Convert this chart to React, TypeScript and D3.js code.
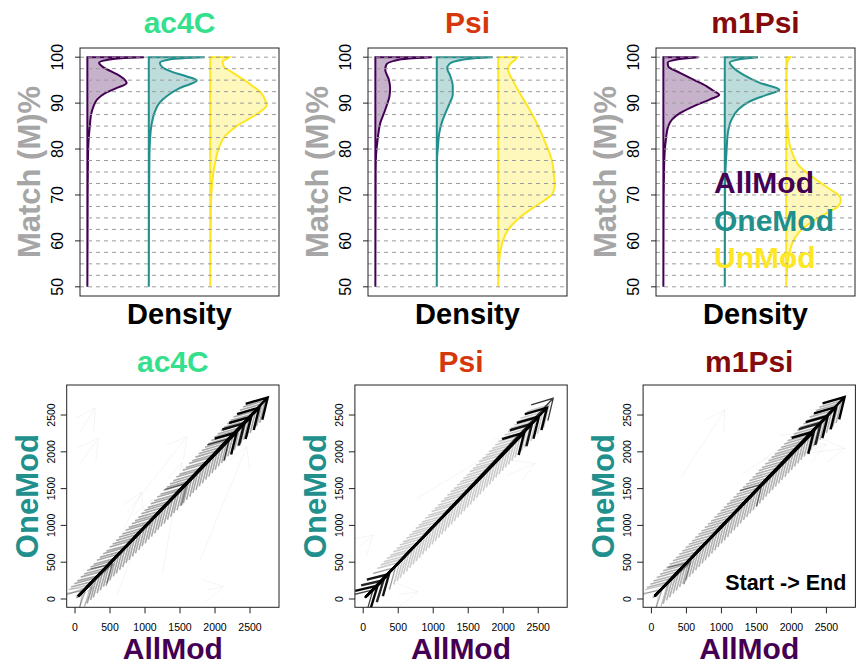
import React from "react";
import * as d3 from "d3";

const W = 856;
const H = 666;
const FONT = "'Liberation Sans', Arial, Helvetica, sans-serif";

const PANELS = ["ac4C", "Psi", "m1Psi"];
const TITLE_COLORS = ["#34E08C", "#D6380C", "#850B0B"];
const MODS = ["AllMod", "OneMod", "UnMod"];
const MOD_COLORS = ["#440154", "#21908C", "#FDE725"];
const MATCH_TICKS = [50, 60, 70, 80, 90, 100];
const MATCH_GRID = [50, 52.5, 55, 57.5, 60, 62.5, 65, 67.5, 70, 72.5, 75, 77.5, 80, 82.5, 85, 87.5, 90, 92.5, 95, 97.5, 100];
const POS_TICKS = [0, 500, 1000, 1500, 2000, 2500];

// density of match % per group, [match %, density scaled to the lane width]
const ac4cAllMod = [[50, 0], [60, 0.003], [70, 0.005], [78, 0.01], [82, 0.02], [85, 0.04], [87.5, 0.06], [89.3, 0.1], [90.8, 0.16], [92.2, 0.29], [93.3, 0.48], [94.4, 0.64], [95.2, 0.6], [96, 0.52], [97, 0.37], [98, 0.24], [98.8, 0.19], [99.4, 0.32], [99.8, 0.6], [100, 0.92]];
const ac4cOneMod = [[50, 0], [70, 0.005], [78, 0.01], [82, 0.02], [85.7, 0.05], [87.8, 0.09], [90, 0.17], [91.5, 0.29], [93.3, 0.51], [94.9, 0.78], [95.8, 0.62], [96.8, 0.38], [97.8, 0.22], [98.8, 0.18], [99.4, 0.3], [99.8, 0.6], [100, 0.91]];
const ac4cUnMod = [[50, 0], [60, 0.005], [65.3, 0.01], [70.4, 0.02], [74.7, 0.05], [77.7, 0.09], [80.6, 0.15], [82.8, 0.24], [85, 0.43], [87.1, 0.7], [88.6, 0.86], [89.6, 0.92], [90.5, 0.9], [92.2, 0.83], [94.4, 0.62], [96.6, 0.37], [98, 0.22], [99.1, 0.2], [99.6, 0.27], [100, 0.31]];

const psiAllMod = [[50, 0], [75, 0.005], [78.4, 0.01], [81.3, 0.03], [83.5, 0.05], [85.7, 0.08], [87.8, 0.14], [89.7, 0.19], [91.5, 0.23], [93.3, 0.24], [95.1, 0.22], [97.3, 0.16], [98.4, 0.18], [99.2, 0.3], [99.7, 0.55], [100, 0.92]];
const psiOneMod = [[50, 0], [78, 0.005], [80.6, 0.02], [83.5, 0.04], [85.7, 0.08], [87.8, 0.14], [90, 0.21], [91.8, 0.26], [93.7, 0.26], [95.9, 0.22], [97.6, 0.17], [98.6, 0.21], [99.4, 0.4], [99.8, 0.65], [100, 0.91]];
const psiUnMod = [[50, 0], [54.4, 0.01], [57.3, 0.03], [60.2, 0.08], [62.4, 0.16], [64.5, 0.3], [66.7, 0.51], [68.9, 0.76], [70.4, 0.89], [72.2, 0.92], [74, 0.91], [77.7, 0.87], [81.3, 0.77], [85, 0.65], [88.6, 0.51], [92.2, 0.35], [95.1, 0.23], [97.3, 0.16], [98.6, 0.2], [99.5, 0.28], [100, 0.31]];

const m1psiAllMod = [[50, 0], [70, 0.005], [74.7, 0.01], [79.1, 0.02], [82, 0.04], [85, 0.08], [86.4, 0.14], [87.8, 0.27], [89.3, 0.49], [90.8, 0.76], [91.8, 0.91], [92.8, 0.8], [93.7, 0.7], [95.1, 0.49], [96.6, 0.27], [98, 0.08], [98.8, 0.07], [99.5, 0.22], [100, 0.57]];
const m1psiOneMod = [[50, 0], [70, 0.005], [74.7, 0.01], [79.8, 0.03], [83.5, 0.05], [86.4, 0.11], [88.6, 0.22], [90.4, 0.41], [91.8, 0.68], [92.9, 0.89], [94.4, 0.57], [96.2, 0.3], [97.7, 0.14], [98.8, 0.08], [99.5, 0.22], [100, 0.54]];
const m1psiUnMod = [[50, 0], [53, 0.01], [56.6, 0.04], [59.5, 0.1], [61.6, 0.19], [63.8, 0.38], [66, 0.65], [67.5, 0.84], [68.9, 0.89], [70, 0.85], [71.1, 0.73], [73.3, 0.49], [76.2, 0.22], [79.8, 0.08], [83.5, 0.03], [90, 0.01], [97, 0.005], [99, 0.02], [100, 0.07]];

const DENSITIES = [
  [ac4cAllMod, ac4cOneMod, ac4cUnMod],
  [psiAllMod, psiOneMod, psiUnMod],
  [m1psiAllMod, m1psiOneMod, m1psiUnMod],
];

// grouped reads: [start AllMod, start OneMod, end AllMod, end OneMod, number of reads]
const ac4cReads = [
  [45, 38, 2753, 2740, 45], [48, 40, 2632, 2600, 35], [50, 42, 2516, 2478, 35], [52, 44, 2420, 2390, 20],
  [50, 40, 2310, 2266, 35], [55, 45, 2205, 2180, 12], [48, 40, 1600, 1575, 5], [46, 40, 540, 478, 4],
  [20, 15, 150, 120, 3], [30, 20, 230, 200, 2], [15, 25, 110, 140, 2], [35, 10, 260, 160, 1],
];
const psiReads = [
  [45, 38, 2714, 2727, 12], [48, 40, 2625, 2600, 35], [50, 42, 2510, 2480, 35], [47, 40, 2410, 2380, 20],
  [50, 40, 2300, 2260, 35], [30, 25, 205, 181, 30], [35, 30, 370, 340, 20], [25, 20, 290, 255, 15],
  [20, 15, 140, 125, 10], [40, 30, 460, 430, 4],
];
const m1psiReads = [
  [45, 38, 2760, 2745, 40], [48, 40, 2640, 2610, 35], [50, 42, 2520, 2490, 35], [47, 40, 2420, 2395, 15],
  [50, 40, 2320, 2275, 35], [48, 40, 1580, 1560, 5], [46, 40, 560, 500, 4],
  [20, 15, 150, 125, 3], [30, 20, 230, 200, 2], [15, 25, 110, 140, 1],
];
const READS = [ac4cReads, psiReads, m1psiReads];

// single reads along the diagonal: [start AllMod, start OneMod, end AllMod, end OneMod]
const ac4cBand = [
  [42, 36, 262, 240], [47, 40, 305, 290], [44, 39, 351, 322], [50, 43, 398, 381], [45, 38, 446, 420], [48, 42, 489, 470],
  [43, 37, 537, 519], [51, 45, 582, 555], [46, 40, 628, 611], [44, 38, 671, 650], [49, 43, 718, 700], [45, 39, 764, 735],
  [52, 46, 809, 792], [43, 38, 853, 833], [47, 41, 901, 880], [46, 40, 944, 925], [50, 44, 992, 968], [44, 38, 1037, 1020],
  [48, 42, 1083, 1059], [45, 40, 1126, 1110], [51, 45, 1172, 1150], [43, 37, 1219, 1195], [47, 42, 1263, 1245], [46, 39, 1308, 1290],
  [49, 43, 1354, 1328], [44, 38, 1399, 1381], [48, 41, 1446, 1420], [45, 40, 1490, 1472], [50, 44, 1537, 1510], [43, 38, 1581, 1566],
  [47, 40, 1626, 1604], [46, 41, 1671, 1650], [52, 45, 1719, 1695], [44, 39, 1762, 1745], [48, 42, 1808, 1783], [45, 38, 1853, 1836],
  [49, 44, 1899, 1874], [43, 37, 1945, 1928], [47, 41, 1990, 1966], [46, 40, 2036, 2015], [50, 44, 2081, 2060], [44, 38, 2127, 2105],
  [48, 42, 2172, 2150], [45, 40, 2218, 2195], [51, 45, 2262, 2241], [43, 37, 2308, 2290], [47, 41, 2353, 2330], [46, 40, 2399, 2378],
  [49, 43, 2445, 2420], [44, 38, 2490, 2470], [48, 42, 2535, 2512], [45, 40, 2581, 2560], [50, 44, 2627, 2603], [46, 41, 2672, 2652],
  [47, 40, 2716, 2698],
];
const psiBand = [
  [44, 38, 520, 500], [46, 41, 566, 548], [43, 37, 611, 590], [49, 42, 655, 640], [45, 40, 702, 680], [48, 43, 747, 728],
  [44, 38, 793, 771], [50, 44, 838, 820], [46, 40, 883, 862], [43, 38, 929, 910], [47, 41, 974, 955], [45, 39, 1019, 997],
  [51, 45, 1065, 1046], [44, 39, 1110, 1090], [48, 42, 1156, 1133], [46, 40, 1201, 1183], [49, 43, 1247, 1224], [43, 37, 1292, 1275],
  [47, 41, 1337, 1316], [45, 40, 1383, 1361], [50, 44, 1428, 1410], [44, 38, 1474, 1452], [48, 43, 1519, 1498], [46, 40, 1564, 1546],
  [52, 45, 1610, 1587], [43, 37, 1655, 1636], [47, 42, 1701, 1680], [45, 39, 1746, 1725], [49, 43, 1792, 1770], [44, 38, 1837, 1818],
  [48, 42, 1882, 1860], [46, 41, 1928, 1905], [50, 44, 1973, 1954], [43, 38, 2019, 1998], [47, 41, 2064, 2043], [45, 40, 2110, 2090],
  [49, 43, 2155, 2132], [44, 39, 2201, 2180], [48, 42, 2246, 2226], [46, 40, 2292, 2270], [51, 45, 2337, 2315], [43, 37, 2383, 2362],
  [47, 41, 2428, 2409], [45, 40, 2474, 2451], [50, 44, 2519, 2498], [44, 38, 2565, 2544], [48, 42, 2610, 2590], [46, 41, 2655, 2636],
];
const m1psiBand = [
  [43, 37, 255, 236], [48, 41, 300, 284], [45, 40, 347, 325], [51, 44, 392, 376], [44, 38, 440, 418], [47, 42, 485, 466],
  [46, 40, 531, 510], [50, 43, 576, 557], [43, 38, 622, 604], [48, 42, 667, 646], [45, 39, 713, 694], [49, 44, 758, 737],
  [44, 38, 804, 786], [47, 41, 849, 828], [46, 40, 895, 874], [52, 46, 940, 921], [43, 37, 986, 966], [48, 42, 1031, 1010],
  [45, 40, 1077, 1058], [50, 44, 1122, 1101], [44, 39, 1168, 1146], [47, 41, 1213, 1195], [46, 40, 1259, 1237], [49, 43, 1304, 1284],
  [43, 38, 1350, 1329], [48, 42, 1395, 1376], [45, 39, 1441, 1418], [51, 45, 1486, 1467], [44, 38, 1532, 1510], [47, 42, 1577, 1558],
  [46, 40, 1623, 1602], [50, 44, 1668, 1647], [43, 37, 1714, 1695], [48, 41, 1759, 1738], [45, 40, 1805, 1784], [49, 43, 1850, 1831],
  [44, 39, 1896, 1874], [47, 41, 1941, 1922], [46, 40, 1987, 1965], [52, 45, 2032, 2012], [43, 38, 2078, 2056], [48, 42, 2123, 2104],
  [45, 39, 2169, 2147], [50, 44, 2214, 2195], [44, 38, 2260, 2238], [47, 42, 2305, 2286], [46, 40, 2351, 2329], [49, 43, 2396, 2377],
  [43, 37, 2442, 2420], [48, 42, 2487, 2468], [45, 40, 2533, 2511], [51, 45, 2578, 2559], [44, 39, 2624, 2602], [47, 41, 2669, 2650],
  [46, 40, 2715, 2694],
];
const BANDS = [ac4cBand, psiBand, m1psiBand];
const BAND_OPACITY = [0.34, 0.2, 0.3];

// single off-diagonal reads, drawn very faint
const ac4cStray = [[71, 2273, 286, 2595], [71, 1844, 333, 2183], [739, 1164, 1596, 2205], [1786, 530, 2453, 2069], [1881, 122, 2119, 167], [300, 150, 950, 1450], [1250, 350, 1520, 1850], [600, 50, 1100, 1350]];
const psiStray = [[766, 1368, 2190, 2183], [-60, 700, 143, 870], [500, 60, 780, 99], [2050, 1680, 2455, 1843]];
const m1psiStray = [[429, 1662, 1048, 2568], [1600, 1900, 2763, 2047], [1300, 1700, 2150, 2250], [1500, 1750, 2500, 2100], [300, 200, 1100, 1050]];
const STRAYS = [ac4cStray, psiStray, m1psiStray];

const TOP = { left: 80, step: 288, width: 199, top: 48, bottom: 296 };
const BOT = { left: 66.7, step: 288.2, width: 212.3, top: 385, bottom: 607.3 };

const arrowPath = (x1: number, y1: number, x2: number, y2: number) => {
  const a = Math.atan2(y2 - y1, x2 - x1);
  const L = 23;
  const h1 = [x2 - L * Math.cos(a - Math.PI / 6), y2 - L * Math.sin(a - Math.PI / 6)];
  const h2 = [x2 - L * Math.cos(a + Math.PI / 6), y2 - L * Math.sin(a + Math.PI / 6)];
  return `M${x1},${y1}L${x2},${y2}M${h1[0]},${h1[1]}L${x2},${y2}L${h2[0]},${h2[1]}`;
};

const DensityPanel = ({ i }: { i: number }) => {
  const x0 = TOP.left + TOP.step * i;
  const x = d3.scaleLinear().domain([-0.12, 3.12]).range([x0, x0 + TOP.width]);
  const y = d3.scaleLinear().domain([48, 102]).range([TOP.bottom, TOP.top]);
  const cx = x0 + TOP.width / 2;
  return (
    <g>
      {DENSITIES[i].map((pts, k) => {
        const area = d3
          .area<number[]>()
          .y((d) => y(d[0]))
          .x0(x(k))
          .x1((d) => x(k + d[1]))
          .curve(d3.curveMonotoneY);
        return (
          <path
            key={k}
            d={area(pts) + "Z"}
            fill={MOD_COLORS[k]}
            fillOpacity={0.3}
            stroke={MOD_COLORS[k]}
            strokeWidth={2}
          />
        );
      })}
      {MATCH_GRID.map((g) => (
        <line key={g} x1={x0} x2={x0 + TOP.width} y1={y(g)} y2={y(g)} stroke="#9b9b9b" strokeDasharray="4,4" />
      ))}
      <rect x={x0} y={TOP.top} width={TOP.width} height={TOP.bottom - TOP.top} fill="none" stroke="#222" />
      {MATCH_TICKS.map((t) => (
        <g key={t}>
          <line x1={x0 - 5} x2={x0} y1={y(t)} y2={y(t)} stroke="#222" />
          <text x={x0 - 17} y={y(t)} transform={`rotate(-90,${x0 - 17},${y(t)})`} textAnchor="middle" fontSize={16} fontFamily={FONT}>
            {t}
          </text>
        </g>
      ))}
      <text x={cx} y={33} textAnchor="middle" fontSize={30} fontWeight="bold" fontFamily={FONT} fill={TITLE_COLORS[i]}>
        {PANELS[i]}
      </text>
      <text x={cx} y={324} textAnchor="middle" fontSize={29} fontWeight="bold" fontFamily={FONT}>
        Density
      </text>
      <text
        x={x0 - 40}
        y={(TOP.top + TOP.bottom) / 2}
        transform={`rotate(-90,${x0 - 40},${(TOP.top + TOP.bottom) / 2})`}
        textAnchor="middle"
        fontSize={31}
        fontWeight="bold"
        fontFamily={FONT}
        fill="#a6a6a6"
      >
        Match (M)%
      </text>
      {i === 2 &&
        MODS.map((m, k) => (
          <text key={m} x={x0 + 58} y={193 + 37.5 * k} fontSize={30} fontWeight="bold" fontFamily={FONT} fill={MOD_COLORS[k]}>
            {m}
          </text>
        ))}
    </g>
  );
};

const ArrowPanel = ({ i }: { i: number }) => {
  const x0 = BOT.left + BOT.step * i;
  const x = d3.scaleLinear().domain([-119, 2914]).range([x0, x0 + BOT.width]);
  const y = d3.scaleLinear().domain([-113, 2908]).range([BOT.bottom, BOT.top]);
  const cx = x0 + BOT.width / 2;
  const cy = (BOT.top + BOT.bottom) / 2;
  const clip = `clip-arrows-${i}`;
  return (
    <g>
      <clipPath id={clip}>
        <rect x={x0} y={BOT.top} width={BOT.width} height={BOT.bottom - BOT.top} />
      </clipPath>
      <g clipPath={`url(#${clip})`} fill="none" stroke="#000" strokeLinejoin="miter">
        {STRAYS[i].map((r, k) => (
          <path key={`s${k}`} d={arrowPath(x(r[0]), y(r[1]), x(r[2]), y(r[3]))} strokeOpacity={0.045} strokeWidth={1} />
        ))}
        {BANDS[i].map((r, k) => (
          <path key={`b${k}`} d={arrowPath(x(r[0]), y(r[1]), x(r[2]), y(r[3]))} strokeOpacity={BAND_OPACITY[i]} strokeWidth={1.6} />
        ))}
        {READS[i].map((r, k) => (
          <path
            key={k}
            d={arrowPath(x(r[0]), y(r[1]), x(r[2]), y(r[3]))}
            strokeOpacity={1 - Math.pow(1 - 0.12, r[4])}
            strokeWidth={r[4] >= 15 ? 2.4 : 1.3}
          />
        ))}
      </g>
      <rect x={x0} y={BOT.top} width={BOT.width} height={BOT.bottom - BOT.top} fill="none" stroke="#222" />
      {POS_TICKS.map((t) => (
        <g key={t}>
          <line x1={x(t)} x2={x(t)} y1={BOT.bottom} y2={BOT.bottom + 6} stroke="#222" />
          <text x={x(t)} y={631} textAnchor="middle" fontSize={10.5} fontFamily={FONT}>
            {t}
          </text>
          <line x1={x0 - 6} x2={x0} y1={y(t)} y2={y(t)} stroke="#222" />
          <text x={x0 - 12} y={y(t)} transform={`rotate(-90,${x0 - 12},${y(t)})`} textAnchor="middle" fontSize={10.5} fontFamily={FONT}>
            {t}
          </text>
        </g>
      ))}
      <text x={cx} y={372} textAnchor="middle" fontSize={30} fontWeight="bold" fontFamily={FONT} fill={TITLE_COLORS[i]}>
        {PANELS[i]}
      </text>
      <text x={cx} y={659} textAnchor="middle" fontSize={30} fontWeight="bold" fontFamily={FONT} fill={MOD_COLORS[0]}>
        AllMod
      </text>
      <text
        x={x0 - 29}
        y={cy}
        transform={`rotate(-90,${x0 - 29},${cy})`}
        textAnchor="middle"
        fontSize={31}
        fontWeight="bold"
        fontFamily={FONT}
        fill={MOD_COLORS[1]}
      >
        OneMod
      </text>
      {i === 2 && (
        <text x={x0 + BOT.width - 9} y={590} textAnchor="end" fontSize={21.5} fontWeight="bold" fontFamily={FONT}>
          Start -&gt; End
        </text>
      )}
    </g>
  );
};

export default function App() {
  return (
    <svg width={W} height={H} style={{ position: "absolute", left: 0, top: 0, background: "#fff" }}>
      <rect width={W} height={H} fill="#fff" />
      {PANELS.map((p, i) => (
        <DensityPanel key={p} i={i} />
      ))}
      {PANELS.map((p, i) => (
        <ArrowPanel key={p} i={i} />
      ))}
    </svg>
  );
}
